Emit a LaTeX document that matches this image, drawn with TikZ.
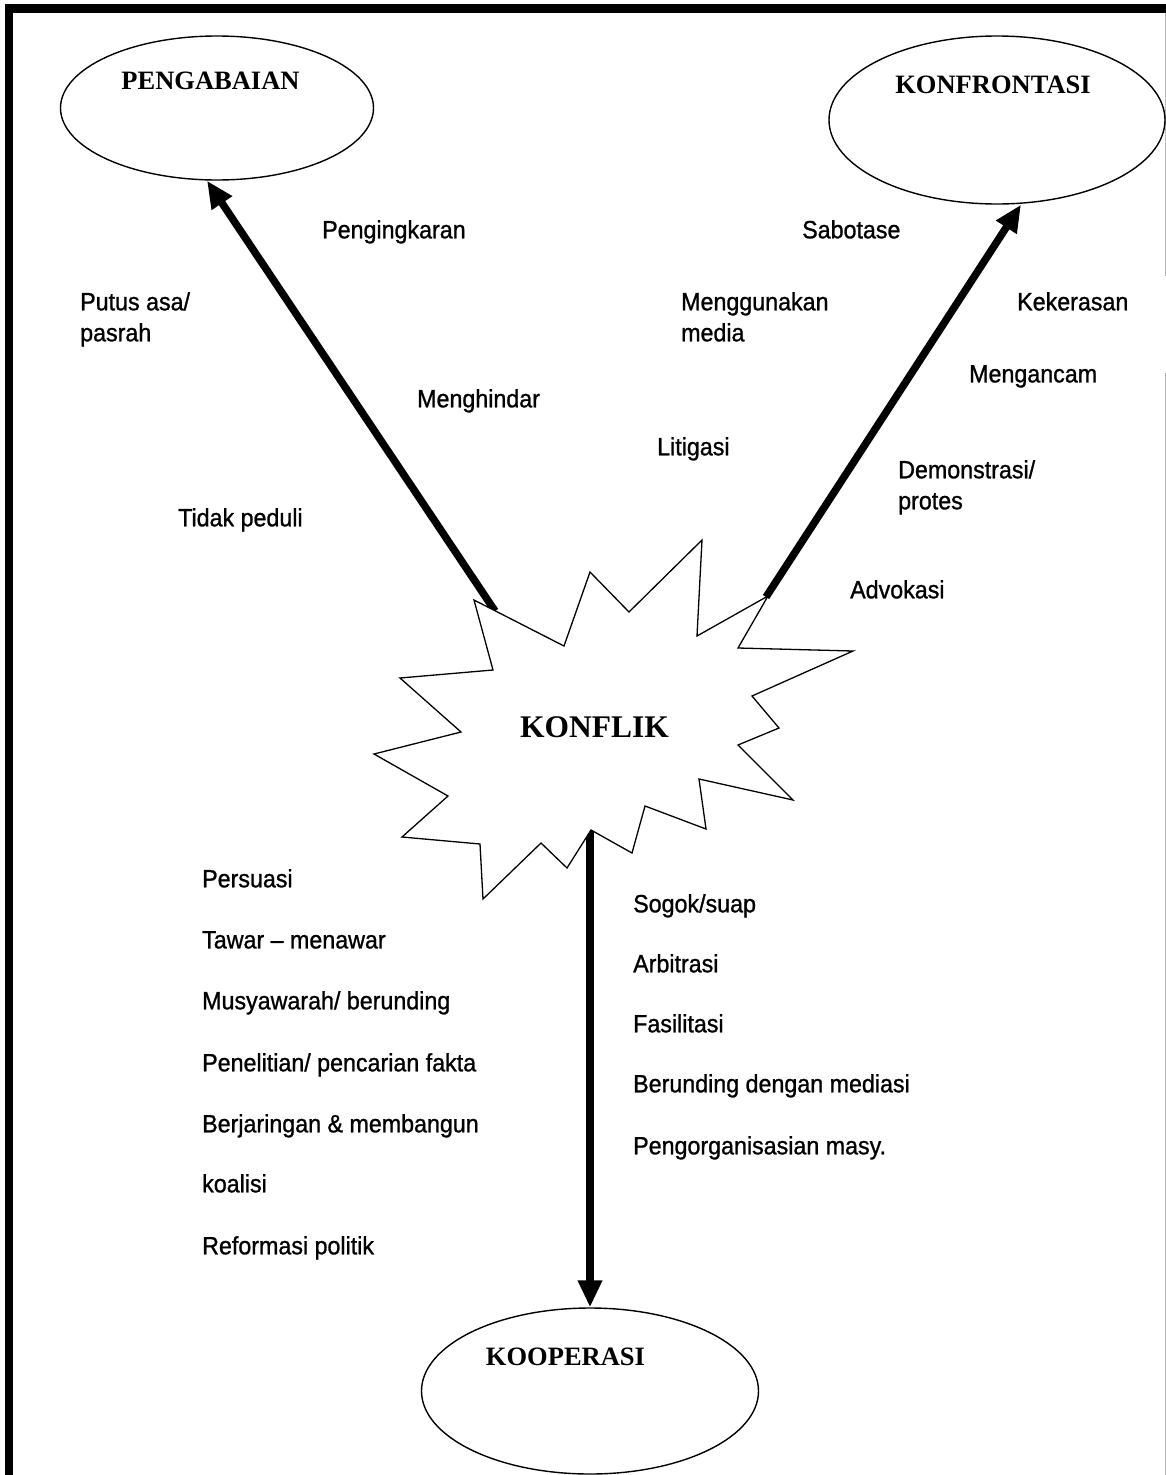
\documentclass[tikz,border=0pt]{standalone}
\usepackage{fontspec}
\setmainfont{Liberation Sans}[FakeStretch=0.93, FakeBold=1]
\newfontfamily\headfont{Liberation Serif}
\usepackage{tikz}
\usetikzlibrary{shapes.geometric,arrows.meta,calc}

\tikzset{
  outcome/.style={draw, ellipse, line width=1.4pt, inner sep=0pt},
  headtext/.style={inner sep=0pt, font=\headfont\bfseries\fontsize{26.5}{30}\selectfont},
  lbl/.style={anchor=north west, align=left, inner sep=0pt, font=\fontsize{25}{31}\selectfont},
  burst/.style={draw, fill=white, line width=1.3pt, line join=miter},
  bigarrow/.style={line width=7.5pt, -{Triangle[length=27pt,width=23pt]}}
}

\begin{document}
\begin{tikzpicture}[x=1pt, y=-1pt]
\useasboundingbox (0,0) rectangle (1166,1475);
% page frame
\draw[line width=8.5pt] (9,1475) -- (9,8.5) -- (1166,8.5);
\draw[gray!55, line width=1pt] (1165,13) -- (1165,276) (1165,373) -- (1165,1475);

% the three outcomes
\node[outcome, minimum width=313pt, minimum height=144pt] (pengabaian) at (217,108) {};
\node[headtext] (pengabaianTxt) at (210.5,81) {PENGABAIAN};
\node[outcome, minimum width=336pt, minimum height=168pt] (konfrontasi) at (997,120) {};
\node[headtext] (konfrontasiTxt) at (993,85) {KONFRONTASI};
\node[outcome, minimum width=337pt, minimum height=166pt] (kooperasi) at (590,1391) {};
\node[headtext] (kooperasiTxt) at (565.5,1357) {KOOPERASI};

% arrows out of the conflict
\coordinate (burstL) at (495,611);
\coordinate (burstR) at (766,597);
\coordinate (burstB) at (590,830);
\draw[bigarrow] (burstL) -- ([xshift=-10pt]pengabaian.south);
\draw[bigarrow] (burstR) -- ([xshift=24pt]konfrontasi.south);
\draw[bigarrow] (burstB) -- (kooperasi.north);

% conflict burst
\draw[burst] (474,600) -- (564,646) -- (590,572) -- (629,612) -- (702,540)
  -- (697,636) -- (768,596) -- (738,648) -- (853,651) -- (752,696)
  -- (779,728) -- (738,745) -- (793,800) -- (699,779) -- (706,829)
  -- (645,806) -- (632,853) -- (591,830) -- (567,868) -- (541,843)
  -- (483,899) -- (480,844) -- (402,837) -- (448,796) -- (374,754)
  -- (461,732) -- (400,678) -- (493,670) -- cycle;
\node[headtext, font=\headfont\bfseries\fontsize{31.5}{34}\selectfont] (konflik) at (594.5,727.5) {KONFLIK};

% pengabaian side
\node[lbl] (pengingkaran) at (322,220) {Pengingkaran};
\node[lbl] (putusasa) at (80,292) {Putus asa/\\pasrah};
\node[lbl] (menghindar) at (417,389) {Menghindar};
\node[lbl] (tidakpeduli) at (178,508) {Tidak peduli};

% konfrontasi side
\node[lbl] (sabotase) at (802,220) {Sabotase};
\node[lbl] (media) at (681,292) {Menggunakan\\media};
\node[lbl] (litigasi) at (657,437) {Litigasi};
\node[lbl] (kekerasan) at (1017,292) {Kekerasan};
\node[lbl] (mengancam) at (969,365) {Mengancam};
\node[lbl] (demonstrasi) at (898,460) {Demonstrasi/\\protes};
\node[lbl] (advokasi) at (850,580) {Advokasi};

% kooperasi side, left
\node[lbl] (persuasi) at (202,869) {Persuasi};
\node[lbl] (tawar) at (202,931) {Tawar – menawar};
\node[lbl] (musyawarah) at (202,991) {Musyawarah/ berunding};
\node[lbl] (penelitian) at (202,1053) {Penelitian/ pencarian fakta};
\node[lbl] (berjaringan) at (202,1114) {Berjaringan \& membangun};
\node[lbl] (koalisi) at (202,1174) {koalisi};
\node[lbl] (reformasi) at (202,1236) {Reformasi politik};

% kooperasi side, right
\node[lbl] (sogok) at (633,894) {Sogok/suap};
\node[lbl] (arbitrasi) at (633,954) {Arbitrasi};
\node[lbl] (fasilitasi) at (633,1014) {Fasilitasi};
\node[lbl] (mediasi) at (633,1074) {Berunding dengan mediasi};
\node[lbl] (masy) at (633,1136) {Pengorganisasian masy.};
\end{tikzpicture}
\end{document}
